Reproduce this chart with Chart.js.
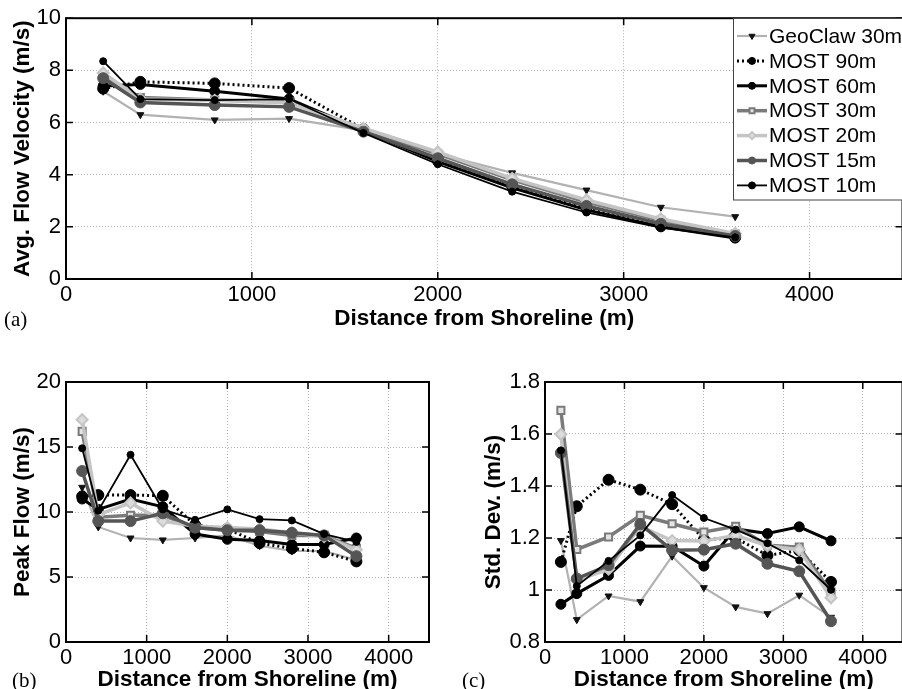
<!DOCTYPE html>
<html>
<head>
<meta charset="utf-8">
<script src="https://cdn.jsdelivr.net/npm/chart.js@4.4.1/dist/chart.umd.min.js"></script>
<style>
  html, body { margin: 0; padding: 0; background: #fff; overflow: hidden; width: 902px; height: 689px; position: relative; }
  .panel { position: absolute; }
  .panel canvas { display: block; }
  .tag { position: absolute; font-family: "Liberation Serif", "Times New Roman", serif; font-size: 21px; color: #000; line-height: 1; }
</style>
</head>
<body>
<div class="panel" style="left:0;top:0"><canvas id="avg" width="910" height="340"></canvas></div>
<div class="panel" style="left:0;top:340px"><canvas id="peak" width="450" height="349"></canvas></div>
<div class="panel" style="left:450px;top:340px"><canvas id="std" width="460" height="349"></canvas></div>
<div class="tag" style="left:4px;top:309px">(a)</div>
<div class="tag" style="left:12px;top:670px">(b)</div>
<div class="tag" style="left:462px;top:670px">(c)</div>

<script>
// distance from shoreline (m), shared by all three panels
const distance = [200, 400, 800, 1200, 1600, 2000, 2400, 2800, 3200, 3600];
const xTicks = [0, 1000, 2000, 3000, 4000];

const seriesNames = ['GeoClaw 30m', 'MOST 90m', 'MOST 60m', 'MOST 30m', 'MOST 20m', 'MOST 15m', 'MOST 10m'];

// (a) average flow velocity (m/s)
const avgGeoClaw30 = [7.2, 6.3, 6.1, 6.15, 5.7, 4.8, 4.07, 3.41, 2.75, 2.39];
const avgMost90 = [7.3, 7.56, 7.5, 7.32, 5.75, 4.6, 3.6, 2.75, 2.05, 1.6];
const avgMost60 = [7.4, 7.46, 7.2, 6.9, 5.7, 4.5, 3.5, 2.65, 2.0, 1.57];
const avgMost30 = [7.8, 6.96, 6.86, 6.8, 5.72, 4.8, 3.8, 2.95, 2.25, 1.72];
const avgMost20 = [7.9, 6.9, 6.85, 6.75, 5.78, 4.87, 3.86, 3.03, 2.3, 1.75];
const avgMost15 = [7.7, 6.77, 6.67, 6.6, 5.65, 4.63, 3.63, 2.8, 2.12, 1.65];
const avgMost10 = [8.35, 6.9, 6.86, 6.9, 5.6, 4.4, 3.35, 2.55, 1.97, 1.6];
const avgYTicks = [0, 2, 4, 6, 8, 10];

// (b) peak flow (m/s)
const peakGeoClaw30 = [11.9, 8.85, 8.0, 7.85, 8.0, 8.2, 7.4, 7.0, 7.0, 6.3];
const peakMost90 = [11.2, 11.3, 11.3, 11.25, 9.0, 8.7, 7.6, 7.2, 6.9, 6.2];
const peakMost60 = [11.0, 10.2, 11.0, 10.4, 8.3, 7.9, 7.8, 7.5, 7.5, 8.0];
const peakMost30 = [16.2, 9.6, 9.75, 9.75, 8.8, 8.6, 8.5, 8.2, 8.2, 7.2];
const peakMost20 = [17.1, 9.8, 10.7, 9.3, 8.9, 8.8, 8.7, 8.4, 8.1, 7.1];
const peakMost15 = [13.15, 9.3, 9.3, 9.9, 8.8, 8.6, 8.6, 8.4, 8.2, 6.6];
const peakMost10 = [14.9, 10.1, 14.4, 10.2, 9.4, 10.2, 9.45, 9.35, 8.3, 7.7];
const peakYTicks = [0, 5, 10, 15, 20];

// (c) standard deviation (m/s)
const stdGeoClaw30 = [1.19, 0.886, 0.977, 0.955, 1.13, 1.009, 0.935, 0.909, 0.98, 0.895];
const stdMost90 = [1.108, 1.322, 1.424, 1.386, 1.33, 1.194, 1.2, 1.133, 1.152, 1.031];
const stdMost60 = [0.945, 0.986, 1.056, 1.169, 1.168, 1.092, 1.235, 1.217, 1.243, 1.189];
const stdMost30 = [1.691, 1.156, 1.204, 1.287, 1.255, 1.223, 1.245, 1.172, 1.165, 0.992];
const stdMost20 = [1.599, 1.037, 1.08, 1.245, 1.19, 1.188, 1.21, 1.17, 1.155, 0.97];
const stdMost15 = [1.527, 1.044, 1.095, 1.253, 1.153, 1.155, 1.178, 1.101, 1.072, 0.88];
const stdMost10 = [1.537, 1.015, 1.112, 1.21, 1.365, 1.277, 1.232, 1.18, 1.114, 1.001];
const stdYTicks = [0.8, 1, 1.2, 1.4, 1.6, 1.8];

const FONT = '"Liberation Sans", Arial, Helvetica, sans-serif';

// matlab-ish line styles, one per series
const seriesStyles = [
  { borderColor: '#b2b2b2', borderWidth: 2.2, pointStyle: 'triangle', pointRotation: 180, pointRadius: 4, pointBackgroundColor: '#111', pointBorderColor: '#111', pointBorderWidth: 1 },
  { borderColor: '#000', borderWidth: 3, borderDash: [2, 3], pointStyle: 'circle', pointRadius: 5.5, pointBackgroundColor: '#000', pointBorderColor: '#000', pointBorderWidth: 1 },
  { borderColor: '#000', borderWidth: 3, pointStyle: 'circle', pointRadius: 5, pointBackgroundColor: '#000', pointBorderColor: '#000', pointBorderWidth: 1 },
  { borderColor: '#7a7a7a', borderWidth: 3.5, pointStyle: 'rect', pointRadius: 5, pointBackgroundColor: '#e4e4e4', pointBorderColor: '#7a7a7a', pointBorderWidth: 2 },
  { borderColor: '#c4c4c4', borderWidth: 3.5, pointStyle: 'rectRot', pointRadius: 5.5, pointBackgroundColor: '#dcdcdc', pointBorderColor: '#c4c4c4', pointBorderWidth: 2 },
  { borderColor: '#555', borderWidth: 3.5, pointStyle: 'circle', pointRadius: 5.5, pointBackgroundColor: '#555', pointBorderColor: '#555', pointBorderWidth: 1 },
  { borderColor: '#000', borderWidth: 1.8, pointStyle: 'circle', pointRadius: 3.5, pointBackgroundColor: '#000', pointBorderColor: '#000', pointBorderWidth: 1 }
];

function makeDatasets(seriesValues) {
  return seriesValues.map((vals, i) => Object.assign({
    label: seriesNames[i],
    data: distance.map((d, j) => ({ x: d, y: vals[j] })),
    fill: false,
    tension: 0,
    order: seriesValues.length - 1 - i   // later series on top, like matlab
  }, seriesStyles[i]));
}

// box around the plot + inward tick marks
const matlabBox = {
  id: 'matlabBox',
  afterDatasetsDraw(chart) {
    const { ctx, chartArea: a, scales: { x, y } } = chart;
    ctx.save();
    ctx.strokeStyle = '#000';
    ctx.lineWidth = 1.5;
    ctx.beginPath();
    x.ticks.forEach(t => {
      const px = x.getPixelForValue(t.value);
      ctx.moveTo(px, a.bottom); ctx.lineTo(px, a.bottom - 7);
      ctx.moveTo(px, a.top); ctx.lineTo(px, a.top + 7);
    });
    y.ticks.forEach(t => {
      const py = y.getPixelForValue(t.value);
      ctx.moveTo(a.left, py); ctx.lineTo(a.left + 7, py);
      ctx.moveTo(a.right, py); ctx.lineTo(a.right - 7, py);
    });
    ctx.stroke();
    ctx.lineWidth = 2;
    ctx.strokeRect(a.left, a.top, a.right - a.left, a.bottom - a.top);
    ctx.restore();
  }
};

// legend box inside panel (a), top right
const insetLegend = {
  id: 'insetLegend',
  afterDraw(chart) {
    const ctx = chart.ctx;
    ctx.save();
    ctx.fillStyle = '#fff';
    ctx.fillRect(733.5, 18.5, 180, 181.5);
    ctx.strokeStyle = '#444';
    ctx.lineWidth = 1;
    ctx.strokeRect(733.5, 18.5, 180, 181.5);
    chart.data.datasets.forEach((ds, i) => {
      const yy = 36 + 24.9 * i;
      ctx.setLineDash(ds.borderDash || []);
      ctx.lineWidth = ds.borderWidth;
      ctx.strokeStyle = ds.borderColor;
      ctx.beginPath();
      ctx.moveTo(737, yy); ctx.lineTo(767, yy);
      ctx.stroke();
      ctx.setLineDash([]);
      ctx.fillStyle = ds.pointBackgroundColor;
      ctx.strokeStyle = ds.pointBorderColor;
      ctx.lineWidth = ds.pointBorderWidth;
      Chart.helpers.drawPoint(ctx, { pointStyle: ds.pointStyle, rotation: ds.pointRotation || 0, radius: 3.5, borderWidth: ds.pointBorderWidth }, 752, yy);
      ctx.fillStyle = '#000';
      ctx.font = '21px ' + FONT;
      ctx.textBaseline = 'middle';
      ctx.fillText(ds.label, 769, yy + 1);
    });
    ctx.restore();
  }
};

function panelOptions(cfg) {
  return {
    responsive: false,
    animation: false,
    layout: { padding: cfg.padding },
    plugins: { legend: { display: false }, tooltip: { enabled: false } },
    scales: {
      x: {
        type: 'linear', min: 0, max: 4500,
        afterBuildTicks: s => { s.ticks = xTicks.map(v => ({ value: v })); },
        afterFit: s => { s.height = cfg.xHeight; },
        grid: { color: '#b0b0b0', lineWidth: 1, drawTicks: false },
        border: { display: false, dash: [1, 2] },
        ticks: { color: '#000', font: { family: FONT, size: 22 }, padding: 3, maxRotation: 0, autoSkip: false, callback: v => String(v) },
        title: { display: true, text: 'Distance from Shoreline (m)', color: '#000', font: { family: FONT, size: 22.5, weight: 'bold' }, padding: { top: 0, bottom: cfg.xTitlePad } }
      },
      y: {
        type: 'linear', min: cfg.yTicks[0], max: cfg.yTicks[cfg.yTicks.length - 1],
        afterBuildTicks: s => { s.ticks = cfg.yTicks.map(v => ({ value: v })); },
        afterFit: s => { s.width = cfg.yWidth; },
        grid: { color: '#b0b0b0', lineWidth: 1, drawTicks: false },
        border: { display: false, dash: [1, 2] },
        ticks: { color: '#000', font: { family: FONT, size: 22 }, padding: 5, autoSkip: false, callback: v => String(Number(v.toFixed(1))) },
        title: { display: true, text: cfg.yTitle, color: '#000', font: { family: FONT, size: 22.5, weight: 'bold' }, padding: { top: cfg.yTitlePad, bottom: 0 } }
      }
    }
  };
}

new Chart(document.getElementById('avg'), {
  type: 'line',
  data: { datasets: makeDatasets([avgGeoClaw30, avgMost90, avgMost60, avgMost30, avgMost20, avgMost15, avgMost10]) },
  options: panelOptions({ padding: { top: 18, right: 2, left: 0, bottom: 0 }, xHeight: 61, yWidth: 66, xTitlePad: 8, yTitlePad: 9, yTicks: avgYTicks, yTitle: 'Avg. Flow Velocity (m/s)' }),
  plugins: [matlabBox, insetLegend]
});

new Chart(document.getElementById('peak'), {
  type: 'line',
  data: { datasets: makeDatasets([peakGeoClaw30, peakMost90, peakMost60, peakMost30, peakMost20, peakMost15, peakMost10]) },
  options: panelOptions({ padding: { top: 42, right: 21, left: 0, bottom: 0 }, xHeight: 47, yWidth: 66, xTitlePad: -4, yTitlePad: 9, yTicks: peakYTicks, yTitle: 'Peak Flow (m/s)' }),
  plugins: [matlabBox]
});

new Chart(document.getElementById('std'), {
  type: 'line',
  data: { datasets: makeDatasets([stdGeoClaw30, stdMost90, stdMost60, stdMost30, stdMost20, stdMost15, stdMost10]) },
  options: panelOptions({ padding: { top: 42, right: 2, left: 0, bottom: 0 }, xHeight: 47, yWidth: 95, xTitlePad: -4, yTitlePad: 30, yTicks: stdYTicks, yTitle: 'Std. Dev. (m/s)' }),
  plugins: [matlabBox]
});
</script>
</body>
</html>
